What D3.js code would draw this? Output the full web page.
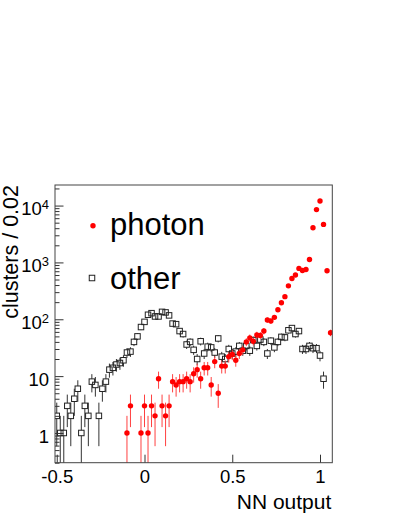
<!DOCTYPE html>
<html>
<head>
<meta charset="utf-8">
<script src="https://cdn.jsdelivr.net/npm/d3@7"></script>
<style>
body { margin: 0; background: #fff; }
text { font-family: "Liberation Sans", Arial, sans-serif; fill: #000; }
</style>
</head>
<body>
<div class="d3-chart"></div>
<script>
// histogram bins: centre of first bin and bin width
var firstBin = -0.50;
var binWidth = 0.02;

// counts per bin, -0.50 ... 1.06
var photonCounts = [
  0, 0, 0, 0, 0, 0, 0, 0, 0, 0,
  0, 0, 0, 0, 0, 0, 0, 0, 0, 0,
  1, 3, 0, 0, 1,
  3, 1, 3, 2, 9, 3, 2, 3, 8, 7,
  8, 8, 9, 8, 11, 13, 9, 14, 14, 7,
  18, 5, 15, 15, 22, 24, 19, 25, 29, 40,
  47, 41, 53, 52, 62, 97, 93, 108, 147, 195,
  250, 387, 520, 600, 785, 720, 750, 1125, 4060, 8500,
  12000, 4660, 715, 58
];
var otherCounts = [
  2, 1, 1, 3, 2, 4, 6, 1, 3, 2,
  8, 7, 2, 6, 8, 13, 14, 16, 17, 19,
  26, 27, 40, 50, 73,
  90, 120, 128, 112, 112, 135, 132, 117, 84, 82,
  62, 55, 36, 40, 29, 20, 41, 25, 33, 32,
  26, 46, 22, 20, 30, 25, 27, 34, 28, 34,
  28, 43, 34, 44, 40, 25, 42, 32, 40, 49,
  48, 64, 70, 55, 62, 30, 30, 34, 31, 31,
  23, 9, 0, 0
];

var xTickValues = [-0.5, 0, 0.5, 1];
var xTickLabels = ["-0.5", "0", "0.5", "1"];
var yTickValues = [1, 10, 100, 1000, 10000];
var yTickBase = ["1", "10", "10", "10", "10"];
var yTickExp = ["", "", "2", "3", "4"];
var legendNames = ["photon", "other"];

var drawChart = function() {
  var width = 399, height = 516;
  var pL = 55, pR = 332.3, pT = 185, pB = 462.7;

  var svg = d3.select('.d3-chart').append('svg')
    .attr('width', width)
    .attr('height', height)
    .style('display', 'block');

  var x = d3.scaleLinear().domain([-0.51, 1.07]).range([pL, pR]);
  var y = d3.scaleLog().domain([0.3, 23000]).range([pB, pT]);

  svg.append('clipPath').attr('id', 'plot')
    .append('rect')
    .attr('x', pL).attr('y', pT)
    .attr('width', pR - pL).attr('height', pB - pT);

  // bins -> points
  var toPoints = function(counts) {
    return counts.map(function(c, i) {
      return { x: firstBin + i * binWidth, v: c, e: Math.sqrt(c) };
    }).filter(function(d) { return d.v > 0; });
  };
  var photon = toPoints(photonCounts);
  var other = toPoints(otherCounts);

  var low = function(d) { return d.v - d.e > 0.01 ? y(d.v - d.e) : pB + 5; };

  var plot = svg.append('g').attr('clip-path', 'url(#plot)');

  // other: open squares, bars stop at the marker edge
  var sq = 5.5;
  var gOther = plot.append('g');
  gOther.selectAll('line.up').data(other).enter().append('line')
    .attr('x1', function(d) { return x(d.x); })
    .attr('x2', function(d) { return x(d.x); })
    .attr('y1', function(d) { return y(d.v + d.e); })
    .attr('y2', function(d) { return Math.max(y(d.v + d.e), y(d.v) - sq / 2); })
    .attr('stroke', '#333').attr('stroke-width', 1);
  gOther.selectAll('line.dn').data(other).enter().append('line')
    .attr('x1', function(d) { return x(d.x); })
    .attr('x2', function(d) { return x(d.x); })
    .attr('y1', function(d) { return y(d.v) + sq / 2; })
    .attr('y2', function(d) { return Math.max(low(d), y(d.v) + sq / 2); })
    .attr('stroke', '#333').attr('stroke-width', 1);
  gOther.selectAll('rect').data(other).enter().append('rect')
    .attr('x', function(d) { return x(d.x) - sq / 2; })
    .attr('y', function(d) { return y(d.v) - sq / 2; })
    .attr('width', sq).attr('height', sq)
    .attr('fill', 'none').attr('stroke', '#222').attr('stroke-width', 1);

  // photon: red dots with error bars
  var gPhoton = plot.append('g');
  gPhoton.selectAll('line').data(photon).enter().append('line')
    .attr('x1', function(d) { return x(d.x); })
    .attr('x2', function(d) { return x(d.x); })
    .attr('y1', function(d) { return y(d.v + d.e); })
    .attr('y2', function(d) { return low(d); })
    .attr('stroke', '#ff4040').attr('stroke-width', 1);
  gPhoton.selectAll('circle').data(photon).enter().append('circle')
    .attr('cx', function(d) { return x(d.x); })
    .attr('cy', function(d) { return y(d.v); })
    .attr('r', 2.7)
    .attr('fill', '#ff0000');

  // y axis: minor then major ticks pointing inward
  var minor = [];
  [0.1, 1, 10, 100, 1000, 10000].forEach(function(dec) {
    for (var k = 2; k <= 9; k++) {
      var v = k * dec;
      if (v >= 0.3 && v <= 23000) minor.push(v);
    }
  });
  svg.append('g').attr('transform', 'translate(' + pL + ',0)')
    .call(d3.axisLeft(y).tickValues(minor).tickSize(-4.5).tickFormat(''))
    .call(function(g) { g.select('.domain').remove(); })
    .selectAll('line').attr('stroke', '#333');

  var yAxis = svg.append('g').attr('transform', 'translate(' + pL + ',0)')
    .call(d3.axisLeft(y).tickValues(yTickValues).tickSize(-8.5).tickPadding(6).tickFormat(''))
    .call(function(g) { g.select('.domain').remove(); });
  yAxis.selectAll('line').attr('stroke', '#333');
  yAxis.selectAll('.tick text').each(function(d, i) {
    var t = d3.select(this)
      .attr('dy', '0.5em')
      .style('font-size', '18.5px');
    t.append('tspan').text(yTickBase[i]);
    if (yTickExp[i]) {
      t.append('tspan').attr('dy', '-0.45em').style('font-size', '13px').text(yTickExp[i]);
    }
  });

  // x axis
  var xAxis = svg.append('g').attr('transform', 'translate(0,' + pB + ')')
    .call(d3.axisBottom(x).tickValues(xTickValues).tickSize(-8).tickPadding(7)
      .tickFormat(function(d, i) { return xTickLabels[i]; }))
    .call(function(g) { g.select('.domain').remove(); });
  xAxis.selectAll('line').attr('stroke', '#333');
  xAxis.selectAll('text').style('font-size', '18.5px');

  // frame
  svg.append('rect')
    .attr('x', pL).attr('y', pT)
    .attr('width', pR - pL).attr('height', pB - pT)
    .attr('fill', 'none').attr('stroke', '#444').attr('stroke-width', 1);

  // axis titles
  svg.append('text')
    .attr('transform', 'translate(17.5,' + pT + ') rotate(-90)')
    .attr('text-anchor', 'end')
    .style('font-size', '21.5px')
    .text('clusters / 0.02');
  svg.append('text')
    .attr('x', pR - 1).attr('y', 508.5)
    .attr('text-anchor', 'end')
    .style('font-size', '21px')
    .text('NN output');

  // legend
  svg.append('circle').attr('cx', 93).attr('cy', 225.7).attr('r', 2.7).attr('fill', '#ff0000');
  svg.append('rect').attr('x', 92 - sq / 2).attr('y', 278 - sq / 2)
    .attr('width', sq).attr('height', sq)
    .attr('fill', 'none').attr('stroke', '#222');
  svg.append('text').attr('x', 110).attr('y', 235).style('font-size', '31px').text(legendNames[0]);
  svg.append('text').attr('x', 110).attr('y', 289).style('font-size', '31px').text(legendNames[1]);
};

drawChart();
</script>
</body>
</html>
